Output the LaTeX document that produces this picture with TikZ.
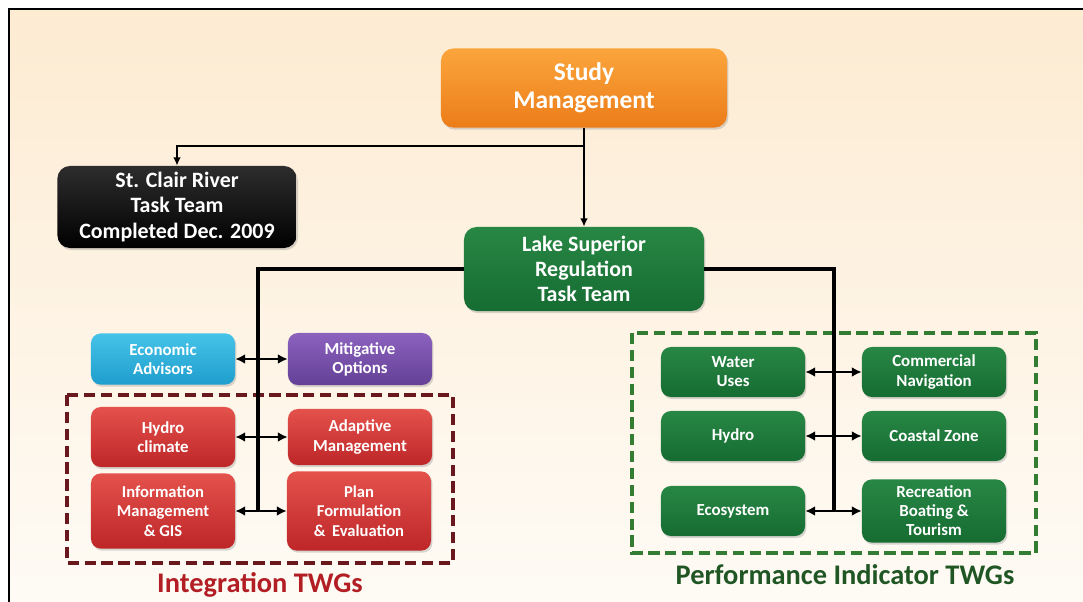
\documentclass[tikz,border=0pt]{standalone}
\usepackage{fontspec}
\setmainfont{Carlito}
\usetikzlibrary{arrows.meta,shadows}

\definecolor{orangetop}{RGB}{251,165,60}
\definecolor{orangebot}{RGB}{236,125,25}
\definecolor{greentop}{RGB}{40,135,68}
\definecolor{greenbot}{RGB}{22,108,50}
\definecolor{cyantop}{RGB}{70,195,232}
\definecolor{cyanbot}{RGB}{30,158,205}
\definecolor{purpletop}{RGB}{140,98,190}
\definecolor{purplebot}{RGB}{100,64,150}
\definecolor{redtop}{RGB}{228,82,76}
\definecolor{redbot}{RGB}{190,38,40}
\definecolor{blacktop}{RGB}{45,45,45}
\definecolor{intred}{RGB}{178,30,36}
\definecolor{perfgreen}{RGB}{32,86,36}
\definecolor{dashred}{RGB}{105,25,30}
\definecolor{dashgreen}{RGB}{50,125,50}
\definecolor{paneltop}{RGB}{253,235,210}
\definecolor{panelbot}{RGB}{254,251,245}

\begin{document}
\begin{tikzpicture}[x=0.025cm,y=-0.025cm,
    box/.style={rounded corners=7pt, text=white, align=center, inner sep=2pt,
      minimum width=3.6cm, font=\bfseries\fontsize{12}{13.6}\selectfont,
      drop shadow={opacity=0.3,shadow xshift=1pt,shadow yshift=-1.5pt}},
    bigbox/.style={box, rounded corners=9pt, minimum width=6cm,
      font=\bfseries\fontsize{15.6}{17.8}\selectfont},
    orangebox/.style={top color=orangetop, bottom color=orangebot},
    greenbox/.style={top color=greentop, bottom color=greenbot},
    cyanbox/.style={top color=cyantop, bottom color=cyanbot},
    purplebox/.style={top color=purpletop, bottom color=purplebot},
    redbox/.style={top color=redtop, bottom color=redbot},
    blackbox/.style={top color=blacktop, bottom color=black},
    feed/.style={line width=1.6pt, -{Latex[length=6pt,width=5.5pt]}},
    trunk/.style={line width=3pt},
    link/.style={line width=2pt, {Latex[length=7pt,width=7pt]}-{Latex[length=7pt,width=7pt]}},
    group/.style={line width=2.6pt, dash pattern=on 8pt off 4pt},
    grouplabel/.style={anchor=base, font=\bfseries\fontsize{20.2}{22}\selectfont}]

\useasboundingbox (0,0) rectangle (1083,602);
\fill[white] (0,0) rectangle (1083,602);
\shade[top color=paneltop, bottom color=panelbot] (9,9) rectangle (1083,602);
\draw[line width=1.4pt] (9,602) -- (9,9) -- (1083,9);

\node[bigbox, orangebox, minimum width=7.15cm, minimum height=1.98cm,
  font=\bfseries\fontsize{18.1}{20}\selectfont] (study) at (584,88) {Study\\Management};
\node[bigbox, blackbox, minimum width=5.98cm, minimum height=2.05cm] (stclair) at (177,207)
  {St. Clair River\\Task Team\\Completed Dec. 2009};
\node[bigbox, greenbox, minimum height=2.1cm] (lake) at (584,269)
  {Lake Superior\\Regulation\\Task Team};

\coordinate (split) at (584,146);
\coordinate (lend) at (258,511);
\coordinate (rend) at (834,511);

\draw[group, dashred] (67,395) rectangle (453,563);
\draw[group, dashgreen] (632,333) rectangle (1036,553);

\draw[feed] (study.south) -- (lake.north);
\draw[feed] (split) -| (stclair.north);
\draw[trunk] (lake.west) -| (lend);
\draw[trunk] (lake.east) -| (rend);

\node[box, cyanbox, minimum height=1.28cm] (econ) at (163,359) {Economic\\Advisors};
\node[box, purplebox, minimum height=1.3cm] (mitig) at (360,359) {Mitigative\\Options};
\node[box, redbox, minimum height=1.5cm] (hydroclim) at (163,437) {Hydro\\climate};
\node[box, redbox, minimum height=1.4cm] (adapt) at (360,437) {Adaptive\\Management};
\node[box, redbox, minimum height=1.88cm, font=\bfseries\fontsize{11.8}{14}\selectfont] (info) at (163,511)
  {Information\\Management\\\& GIS};
\node[box, redbox, minimum height=1.98cm, font=\bfseries\fontsize{11.8}{14}\selectfont] (plan) at (359,511)
  {Plan\\Formulation\\\& \,Evaluation};

\node[box, greenbox, minimum height=1.25cm] (water) at (733,372) {Water\\Uses};
\node[box, greenbox, minimum height=1.25cm] (navig) at (934,372) {Commercial\\Navigation};
\node[box, greenbox, minimum height=1.25cm] (hydro) at (733,436) {Hydro};
\node[box, greenbox, minimum height=1.25cm] (coast) at (934,436) {Coastal Zone};
\node[box, greenbox, minimum height=1.25cm] (eco) at (733,511) {Ecosystem};
\node[box, greenbox, minimum height=1.58cm] (recr) at (934,511) {Recreation\\Boating \&\\Tourism};

\draw[link] (econ) -- (mitig);
\draw[link] (hydroclim) -- (adapt);
\draw[link] (info) -- (plan);
\draw[link] (water) -- (navig);
\draw[link] (hydro) -- (coast);
\draw[link] (eco) -- (recr);

\node[grouplabel, text=intred] (intlabel) at (260,592) {Integration TWGs};
\node[grouplabel, text=perfgreen] (perflabel) at (845,584) {Performance Indicator TWGs};

\end{tikzpicture}
\end{document}
